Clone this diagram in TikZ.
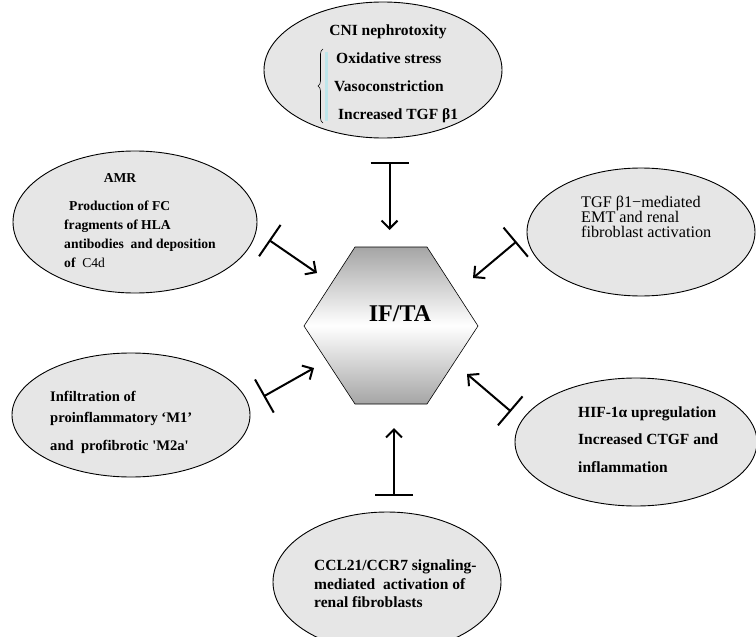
\documentclass[tikz,border=0pt]{standalone}
\usepackage{fontspec}
\setmainfont{Liberation Serif}
\usetikzlibrary{shapes.geometric,arrows.meta,decorations.pathreplacing}
\definecolor{ellfill}{RGB}{230,230,230}
\definecolor{hexdark}{RGB}{165,165,165}
\definecolor{bracecyan}{RGB}{190,230,235}
\begin{document}
\begin{tikzpicture}[x=1pt,y=-1pt,
  ell/.style={ellipse, draw=black, line width=0.9pt, fill=ellfill, inner sep=0pt},
  bt/.style={font=\fontsize{15.5}{18}\selectfont\bfseries, inner sep=0pt, anchor=base west},
  btsmall/.style={font=\fontsize{13.6}{18}\selectfont\bfseries, inner sep=0pt, anchor=base west},
  btinfl/.style={font=\fontsize{14.6}{18}\selectfont\bfseries, inner sep=0pt, anchor=base west},
  rt/.style={font=\fontsize{16.2}{18}\selectfont, inner sep=0pt, anchor=base west},
  inh/.style={line width=2pt, {Bar[width=38pt]}-{Straight Barb[length=8pt,width=16pt]}}]
\useasboundingbox (0,0) rectangle (756,637);

% ellipses
\node[ell, minimum width=238pt, minimum height=136pt] (cni) at (383,70) {};
\node[ell, minimum width=244pt, minimum height=142pt] (amr) at (135,222) {};
\node[ell, minimum width=228pt, minimum height=128pt] (tgf) at (641,232) {};
\node[ell, minimum width=238pt, minimum height=124pt] (infl) at (131,415) {};
\node[ell, minimum width=242pt, minimum height=128pt] (hif) at (636,442) {};
\node[ell, minimum width=228pt, minimum height=140pt] (ccl) at (387,582) {};

% hexagon
\coordinate (h1) at (355,247);
\coordinate (h2) at (427,247);
\coordinate (h3) at (478,326);
\coordinate (h4) at (427,404);
\coordinate (h5) at (355,404);
\coordinate (h6) at (304,326);
\shade[draw=black, line width=0.6pt, top color=hexdark, bottom color=hexdark, middle color=white]
  (h1) -- (h2) -- (h3) -- (h4) -- (h5) -- (h6) -- cycle;
\node[font=\fontsize{24}{24}\selectfont\bfseries, inner sep=0pt, anchor=base] (ifta) at (400,321) {IF/TA};

% CNI text
\draw[bracecyan, line width=3pt] (326.5,52) -- (326.5,121);
\draw[decorate, decoration={brace, amplitude=5pt}, line width=0.6pt] (323,123) -- (323,49);
\node[bt, anchor=base] (cniT) at (388,35) {CNI nephrotoxity};
\node[bt] (cni1) at (336,63) {Oxidative stress};
\node[bt] (cni2) at (334,91) {Vasoconstriction};
\node[bt] (cni3) at (338,119) {Increased TGF β1};

% AMR text
\node[btsmall, anchor=base] (amrT) at (120,182) {AMR};
\node[btsmall] (amr1) at (69,210) {Production of FC};
\node[btsmall] (amr2) at (64,229) {fragments of HLA};
\node[btsmall] (amr3) at (64,248) {antibodies\ \ and deposition};
\node[btsmall] (amr4) at (64,267) {of\ \ \mdseries C4d};

% TGF text
\node[rt] (tgf1) at (581,207) {TGF β1−mediated};
\node[rt] (tgf2) at (581,222) {EMT and renal};
\node[rt] (tgf3) at (581,237) {fibroblast activation};

% Infiltration text
\node[btinfl] (infl1) at (50,401) {Infiltration of};
\node[btinfl] (infl2) at (50,422) {proinflammatory\ ‘M1’};
\node[btinfl] (infl3) at (50,450) {and\ \ profibrotic \textquotesingle M2a\textquotesingle};

% HIF text
\node[bt] (hif1) at (578,417) {HIF-1α upregulation};
\node[bt] (hif2) at (578,444) {Increased CTGF and};
\node[bt] (hif3) at (578,472) {inflammation};

% CCL21 text
\node[bt] (ccl1) at (314,570) {CCL21/CCR7 signaling-};
\node[bt] (ccl2) at (314,589) {mediated\ \ activation of};
\node[bt] (ccl3) at (314,607) {renal fibroblasts};

% connectors
\coordinate (cniBar) at (389.5,162);   \coordinate (cniTip) at (389.5,230);
\coordinate (amrBar) at (269,240);     \coordinate (amrTip) at (317,273);
\coordinate (tgfBar) at (516.5,241.5); \coordinate (tgfTip) at (473,278);
\coordinate (inflBar) at (263.5,396.5);\coordinate (inflTip) at (314,368);
\coordinate (hifBar) at (511,411.5);   \coordinate (hifTip) at (467,374);
\coordinate (cclBar) at (394,496);     \coordinate (cclTip) at (394,428);
\draw[inh] (cniBar) -- (cniTip);
\draw[inh] (amrBar) -- (amrTip);
\draw[inh] (tgfBar) -- (tgfTip);
\draw[inh] (inflBar) -- (inflTip);
\draw[inh] (hifBar) -- (hifTip);
\draw[inh] (cclBar) -- (cclTip);
\end{tikzpicture}
\end{document}
